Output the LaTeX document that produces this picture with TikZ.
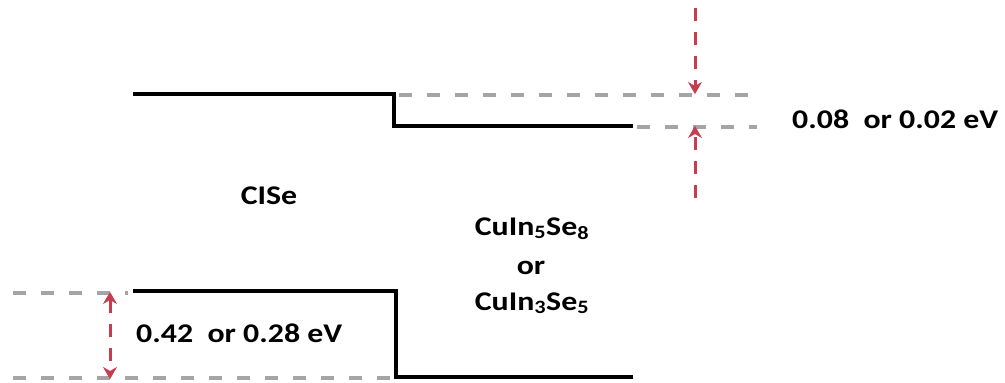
\documentclass[tikz,border=0pt]{standalone}
\usepackage{fontspec}
\setmainfont{Carlito}
\newfontfamily\lblfont[FakeStretch=1.18]{Carlito}
\usetikzlibrary{arrows.meta}
\definecolor{levelgrey}{RGB}{165,165,165}
\definecolor{offsetred}{RGB}{200,60,80}
\begin{document}
\begin{tikzpicture}[x=1pt,y=-1pt,
  band/.style={line width=4.4pt,black},
  guide/.style={line width=3.4pt,levelgrey,dash pattern=on 13pt off 15pt},
  offset/.style={line width=3pt,offsetred,dash pattern=on 13pt off 11pt,
    -{Stealth[length=12pt,width=14pt,inset=4pt,line width=0.5pt]}},
  offset2/.style={line width=3pt,offsetred,dash pattern=on 13pt off 11pt,
    {Stealth[length=12pt,width=14pt,inset=4pt,line width=0.5pt]}-{Stealth[length=12pt,width=14pt,inset=4pt,line width=0.5pt]}},
  lbl/.style={font=\lblfont\fontsize{27}{30}\selectfont\bfseries,inner sep=0pt,anchor=base}]
\useasboundingbox (0,0) rectangle (1005,383);
% conduction band edges
\coordinate (cb1) at (133,94);
\coordinate (cb2) at (394,94);
\coordinate (cb3) at (394,126);
\coordinate (cb4) at (633,126);
\draw[band] (cb1) -- (cb2) -- (cb3) -- (cb4);
% valence band edges
\coordinate (vb1) at (133,291);
\coordinate (vb2) at (396,291);
\coordinate (vb3) at (396,377);
\coordinate (vb4) at (633,377);
\draw[band] (vb1) -- (vb2) -- (vb3) -- (vb4);
% grey reference levels
\coordinate (g1a) at (399,95);
\coordinate (g1b) at (757,95);
\coordinate (g2a) at (637,127);
\coordinate (g2b) at (757,127);
\coordinate (g3a) at (13,293);
\coordinate (g3b) at (128,293);
\coordinate (g4a) at (13,378);
\coordinate (g4b) at (396,378);
\draw[guide] (g1a) -- (g1b);
\draw[guide] (g2a) -- (g2b);
\draw[guide] (g3a) -- (g3b);
\draw[guide] (g4a) -- (g4b);
% conduction band offset arrows
\coordinate (ct) at (695,8);
\coordinate (cm) at (695,94);
\coordinate (cn) at (695,126);
\coordinate (cb) at (695,198);
\draw[offset] (ct) -- (cm);
\draw[offset] (cb) -- (cn);
% valence band offset arrow
\coordinate (va) at (110,292);
\coordinate (vb) at (110,379);
\draw[offset2] (va) -- (vb);
% labels
\node[lbl] (cise) at (269,204) {CISe};
\node[lbl] (cis5) at (532,235) {CuIn\textsubscript{5}Se\textsubscript{8}};
\node[lbl] (orr) at (531,274) {or};
\node[lbl] (cis3) at (532,310) {CuIn\textsubscript{3}Se\textsubscript{5}};
\node[lbl,anchor=base west] (cbo) at (792,128) {0.08\ \ or 0.02 eV};
\node[lbl,anchor=base west] (vbo) at (136,342) {0.42\ \ or 0.28 eV};
\end{tikzpicture}
\end{document}
